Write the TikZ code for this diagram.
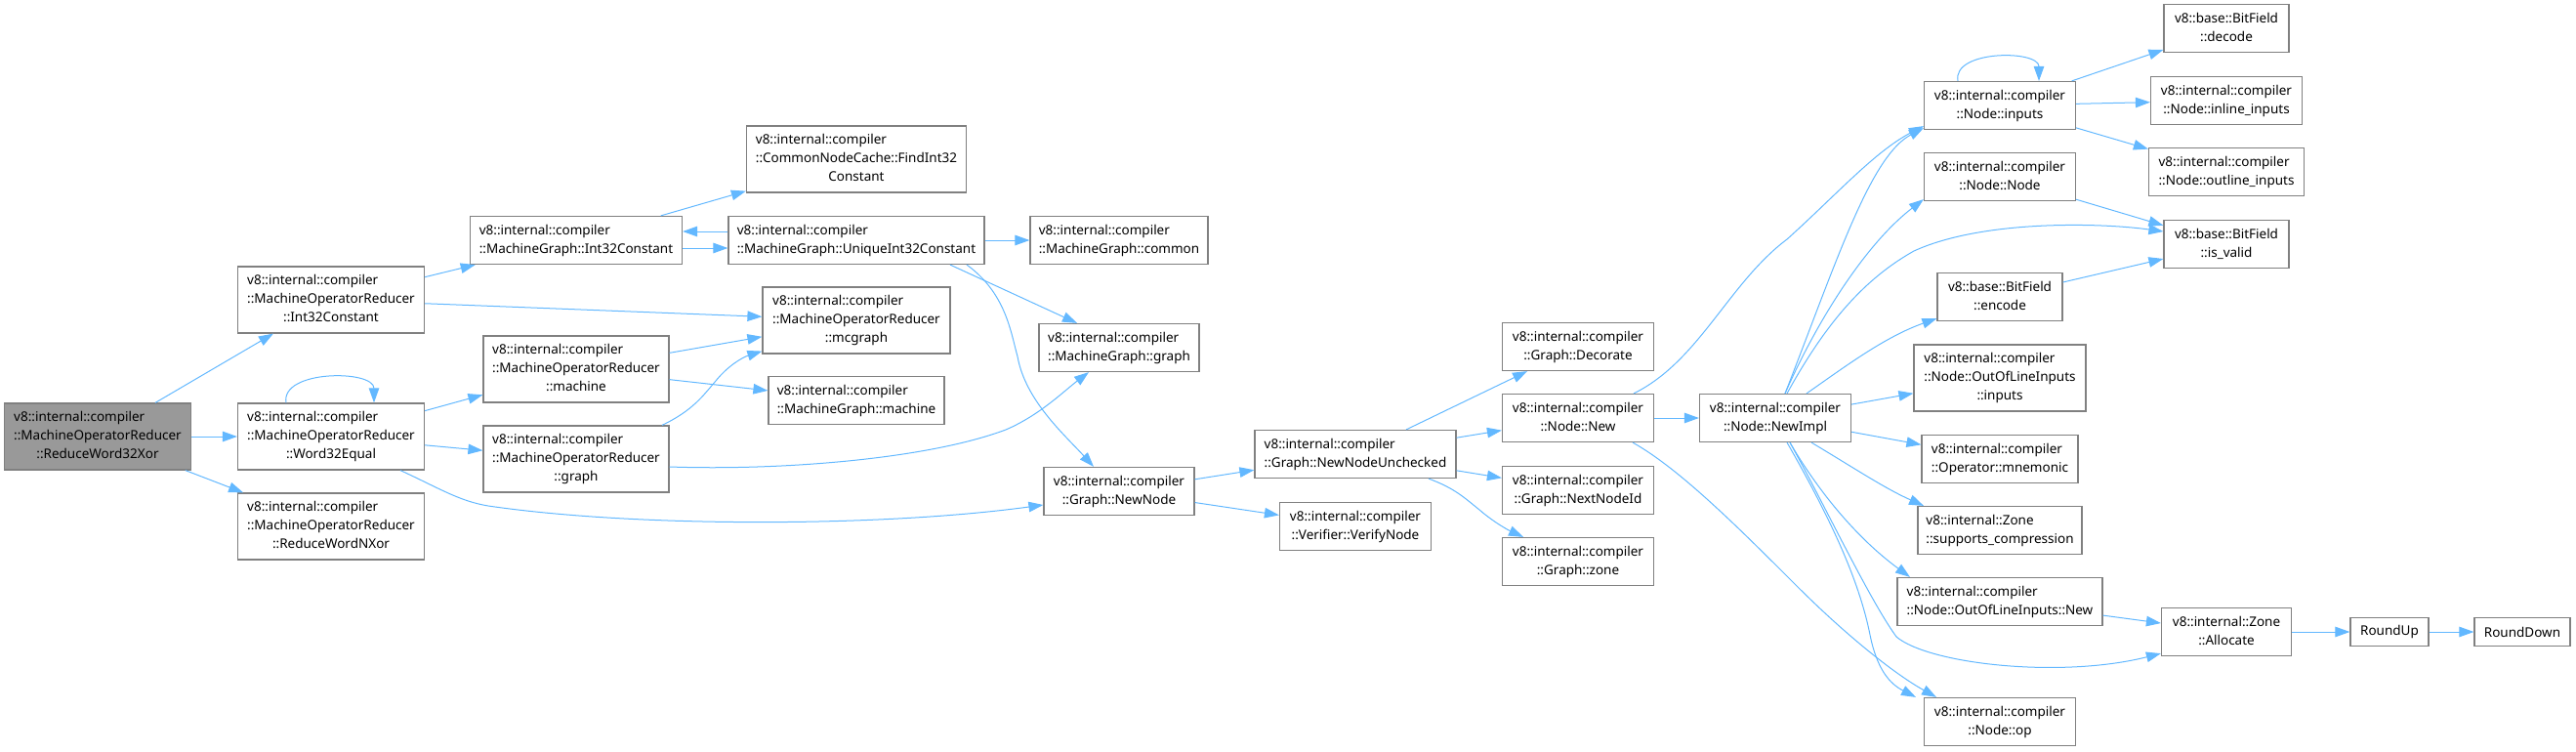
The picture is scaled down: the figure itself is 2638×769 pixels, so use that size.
\documentclass[tikz,border=0pt]{standalone}
\usepackage{fontspec}
\setmainfont{Noto Sans}
\usetikzlibrary{arrows.meta}
\definecolor{edgeblue}{HTML}{63B8FF}
\definecolor{boxgray}{HTML}{808080}
\definecolor{rootgray}{HTML}{999999}
% label: all lines but the last flush left, last line centred
\newcommand{\fnlab}[2]{\begin{tabular}{@{}l@{}}#1\\\multicolumn{1}{@{}c@{}}{#2}\end{tabular}}

\begin{document}
\begin{tikzpicture}[x=1pt,y=-1pt,>={Triangle[length=15pt,width=10.5pt]},
  fn/.style={draw=boxgray,line width=1.2pt,fill=white,inner sep=0pt,minimum height=49pt,font=\fontsize{13.5}{19}\selectfont},
  tall/.style={minimum height=68pt},
  call/.style={->,draw=edgeblue,line width=1pt}]
\useasboundingbox (0,0) rectangle (2638,769);
% caller
\node[fn,tall,fill=rootgray,minimum width=191pt] (reduceXor) at (100,447) {\fnlab{v8::internal::compiler\\::MachineOperatorReducer}{::ReduceWord32Xor}};
% first level
\node[fn,tall,minimum width=191pt] (morInt32) at (339,307) {\fnlab{v8::internal::compiler\\::MachineOperatorReducer}{::Int32Constant}};
\node[fn,tall,minimum width=191pt] (morWord32Eq) at (339,447) {\fnlab{v8::internal::compiler\\::MachineOperatorReducer}{::Word32Equal}};
\node[fn,tall,minimum width=191pt] (morReduceNXor) at (339,539) {\fnlab{v8::internal::compiler\\::MachineOperatorReducer}{::ReduceWordNXor}};
% second level
\node[fn,minimum width=217pt] (mgInt32) at (590,246) {\fnlab{v8::internal::compiler}{::MachineGraph::Int32Constant}};
\node[fn,tall,minimum width=190pt] (morMachine) at (590,378) {\fnlab{v8::internal::compiler\\::MachineOperatorReducer}{::machine}};
\node[fn,tall,minimum width=190pt] (morGraph) at (590,470) {\fnlab{v8::internal::compiler\\::MachineOperatorReducer}{::graph}};
% third level
\node[fn,tall,minimum width=225pt] (findInt32) at (877,163) {\fnlab{v8::internal::compiler\\::CommonNodeCache::FindInt32}{Constant}};
\node[fn,minimum width=262pt] (uniqueInt32) at (877,246) {\fnlab{v8::internal::compiler}{::MachineGraph::UniqueInt32Constant}};
\node[fn,tall,minimum width=192pt] (morMcgraph) at (877,328) {\fnlab{v8::internal::compiler\\::MachineOperatorReducer}{::mcgraph}};
\node[fn,minimum width=180pt] (mgMachine) at (877,410) {\fnlab{v8::internal::compiler}{::MachineGraph::machine}};
% graph nodes
\node[fn,minimum width=182pt] (mgCommon) at (1146,246) {\fnlab{v8::internal::compiler}{::MachineGraph::common}};
\node[fn,minimum width=164pt] (mgGraph) at (1146,356) {\fnlab{v8::internal::compiler}{::MachineGraph::graph}};
\node[fn,minimum width=154pt] (newNode) at (1146,503) {\fnlab{v8::internal::compiler}{::Graph::NewNode}};
\node[fn,minimum width=206pt] (newNodeUnchecked) at (1388,465) {\fnlab{v8::internal::compiler}{::Graph::NewNodeUnchecked}};
\node[fn,minimum width=155pt] (verifyNode) at (1388,539) {\fnlab{v8::internal::compiler}{::Verifier::VerifyNode}};
\node[fn,minimum width=155pt] (graphDecorate) at (1616,355) {\fnlab{v8::internal::compiler}{::Graph::Decorate}};
\node[fn,minimum width=155pt] (nodeNew) at (1616,428) {\fnlab{v8::internal::compiler}{::Node::New}};
\node[fn,minimum width=155pt] (nextNodeId) at (1616,502) {\fnlab{v8::internal::compiler}{::Graph::NextNodeId}};
\node[fn,minimum width=155pt] (graphZone) at (1616,575) {\fnlab{v8::internal::compiler}{::Graph::zone}};
\node[fn,minimum width=155pt] (nodeNewImpl) at (1818,428) {\fnlab{v8::internal::compiler}{::Node::NewImpl}};
% callees of NewImpl
\node[fn,minimum width=155pt] (nodeInputs) at (2048,108) {\fnlab{v8::internal::compiler}{::Node::inputs}};
\node[fn,minimum width=155pt] (nodeNode) at (2048,181) {\fnlab{v8::internal::compiler}{::Node::Node}};
\node[fn,minimum width=128pt] (encodeFn) at (2048,304) {\fnlab{v8::base::BitField}{::encode}};
\node[fn,tall,minimum width=176pt] (ooliInputs) at (2048,387) {\fnlab{v8::internal::compiler\\::Node::OutOfLineInputs}{::inputs}};
\node[fn,minimum width=160pt] (opMnemonic) at (2048,470) {\fnlab{v8::internal::compiler}{::Operator::mnemonic}};
\node[fn,minimum width=168pt] (supportsComp) at (2048,543) {\fnlab{v8::internal::Zone}{::supports\_compression}};
\node[fn,minimum width=210pt] (ooliNew) at (2048,616) {\fnlab{v8::internal::compiler}{::Node::OutOfLineInputs::New}};
\node[fn,minimum width=155pt] (nodeOp) at (2048,739) {\fnlab{v8::internal::compiler}{::Node::op}};
% last column
\node[fn,minimum width=128pt] (bfDecode) at (2280,29) {\fnlab{v8::base::BitField}{::decode}};
\node[fn,minimum width=155pt] (inlineInputs) at (2280,103) {\fnlab{v8::internal::compiler}{::Node::inline\_inputs}};
\node[fn,minimum width=159pt] (outlineInputs) at (2280,176) {\fnlab{v8::internal::compiler}{::Node::outline\_inputs}};
\node[fn,minimum width=128pt] (isValid) at (2280,250) {\fnlab{v8::base::BitField}{::is\_valid}};
\node[fn,minimum width=133pt] (zoneAllocate) at (2280,647) {\fnlab{v8::internal::Zone}{::Allocate}};
\node[fn,minimum width=80pt,minimum height=29pt] (roundUp) at (2447,647) {RoundUp};
\node[fn,minimum width=98pt,minimum height=29pt] (roundDown) at (2583,647) {RoundDown};

% ReduceWord32Xor
\draw[call] (reduceXor) -- (morInt32);
\draw[call] (reduceXor) -- (morWord32Eq);
\draw[call] (reduceXor) -- (morReduceNXor);
% MachineOperatorReducer::Int32Constant
\draw[call] (morInt32) -- (mgInt32);
\draw[call] (morInt32) -- (morMcgraph);
% Word32Equal (recursive)
\draw[call] ([xshift=-46pt]morWord32Eq.north) .. controls +(-6,-34) and +(0,-34) .. ([xshift=44pt]morWord32Eq.north);
\draw[call] (morWord32Eq) -- (morMachine);
\draw[call] (morWord32Eq) -- (morGraph);
\draw[call] ([xshift=71pt]morWord32Eq.south) .. controls (450,500) and (470,513) .. (500,518) .. controls (650,540) and (900,540) .. ([yshift=-14pt]newNode.west);
% MachineGraph::Int32Constant <-> UniqueInt32Constant
\draw[call] (mgInt32) -- (findInt32);
\draw[call] ([yshift=-8pt]mgInt32.east) -- ([yshift=-8pt]uniqueInt32.west);
\draw[call] ([yshift=9pt]uniqueInt32.west) -- ([yshift=9pt]mgInt32.east);
\draw[call] (uniqueInt32) -- (mgCommon);
\draw[call] ([xshift=96pt]uniqueInt32.south) -- ([xshift=-43pt]mgGraph.north);
\draw[call] ([xshift=113pt]uniqueInt32.south) .. controls (1030,300) and (1035,340) .. (1042,365) .. controls (1050,410) and (1090,445) .. ([xshift=-26pt]newNode.north);
% machine / graph
\draw[call] (morMachine) -- (morMcgraph);
\draw[call] (morMachine) -- (mgMachine);
\draw[call] ([xshift=88pt]morGraph.north) .. controls (710,420) and (720,405) .. (733,390) .. controls (745,375) and (760,366) .. ([yshift=3pt]morMcgraph.south west);
\draw[call] ([yshift=-8pt]morGraph.east) .. controls (800,482) and (950,470) .. (1030,440) .. controls (1065,425) and (1090,400) .. ([xshift=-31pt]mgGraph.south);
% Graph::NewNode
\draw[call] (newNode) -- (newNodeUnchecked);
\draw[call] (newNode) -- (verifyNode);
\draw[call] (newNodeUnchecked) -- (graphDecorate);
\draw[call] (newNodeUnchecked) -- (nodeNew);
\draw[call] (newNodeUnchecked) -- (nextNodeId);
\draw[call] ([xshift=75pt]newNodeUnchecked.south) .. controls (1490,500) and (1500,510) .. (1515,522) .. controls (1530,535) and (1545,543) .. ([xshift=-56pt]graphZone.north);
% Node::New
\draw[call] (nodeNew) -- (nodeNewImpl);
\draw[call] ([xshift=57pt]nodeNew.north) .. controls (1740,370) and (1770,290) .. (1830,245) .. controls (1880,200) and (1920,155) .. ([yshift=4pt]nodeInputs.south west);
\draw[call] ([xshift=56pt]nodeNew.south) .. controls (1720,480) and (1780,540) .. (1840,600) .. controls (1890,650) and (1940,690) .. ([xshift=-65pt]nodeOp.north);
% Node::NewImpl
\draw[call] ([xshift=10pt]nodeNewImpl.north) .. controls (1880,270) and (1915,160) .. ([yshift=2pt]nodeInputs.south west);
\draw[call] ([xshift=10pt]nodeNewImpl.north) .. controls (1860,330) and (1910,250) .. ([yshift=2pt]nodeNode.south west);
\draw[call] ([xshift=12pt]nodeNewImpl.north) .. controls (1870,330) and (1910,285) .. (1960,257) .. controls (2030,225) and (2150,228) .. ([yshift=13pt]isValid.west);
\draw[call] ([xshift=32pt]nodeNewImpl.north) .. controls (1890,375) and (1930,345) .. ([yshift=3pt]encodeFn.south west);
\draw[call] (nodeNewImpl) -- (ooliInputs);
\draw[call] (nodeNewImpl) -- (opMnemonic);
\draw[call] ([xshift=37pt]nodeNewImpl.south) .. controls (1900,480) and (1930,500) .. ([xshift=-78pt]supportsComp.north);
\draw[call] ([xshift=15pt]nodeNewImpl.south) .. controls (1860,500) and (1900,550) .. ([xshift=-92pt]ooliNew.north);
\draw[call] ([xshift=15pt]nodeNewImpl.south) .. controls (1870,520) and (1915,615) .. (1942,652) .. controls (1975,680) and (2110,695) .. ([yshift=3pt]zoneAllocate.south west);
\draw[call] ([xshift=12pt]nodeNewImpl.south) .. controls (1880,540) and (1905,600) .. (1915,650) .. controls (1922,685) and (1935,700) .. ([xshift=-86pt]nodeOp.north);
% Node::inputs (recursive)
\draw[call] ([xshift=-43pt]nodeInputs.north) .. controls +(-6,-32) and +(0,-32) .. ([xshift=40pt]nodeInputs.north);
\draw[call] (nodeInputs) -- (bfDecode);
\draw[call] (nodeInputs) -- (inlineInputs);
\draw[call] (nodeInputs) -- (outlineInputs);
\draw[call] (nodeNode) -- (isValid);
\draw[call] (encodeFn) -- (isValid);
% Zone::Allocate
\draw[call] (ooliNew) -- (zoneAllocate);
\draw[call] (zoneAllocate) -- (roundUp);
\draw[call] (roundUp) -- (roundDown);
\end{tikzpicture}
\end{document}
